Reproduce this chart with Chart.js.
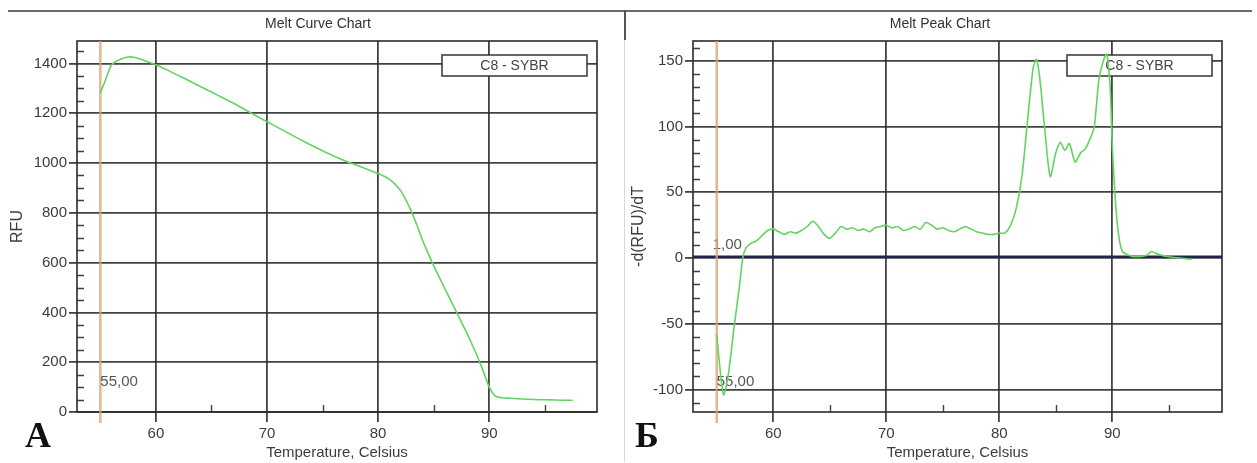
<!DOCTYPE html>
<html>
<head>
<meta charset="utf-8">
<title>Melt Curve / Melt Peak</title>
<script src="https://cdn.jsdelivr.net/npm/chart.js@4.4.1/dist/chart.umd.min.js"></script>
<style>
  html, body { margin: 0; padding: 0; background: #fff; }
  body { width: 1257px; height: 463px; position: relative; overflow: hidden; font-family: "Liberation Sans", Arial, sans-serif; }
  canvas { position: absolute; top: 0; }
  .frame-top { position: absolute; top: 10px; left: 8px; width: 1244px; height: 2px; background: #6a6a6a; }
  .sep { position: absolute; left: 624px; top: 10px; width: 1px; height: 452px; background: #d8d8d8; }
  .sep-top { position: absolute; left: 624px; top: 10px; width: 2px; height: 30px; background: #555; }
  .title { position: absolute; top: 15px; font-size: 14px; line-height: 16px; color: #333; white-space: nowrap; transform: translateX(-50%); }
  .letter { position: absolute; top: 417px; font-family: "Liberation Serif", "DejaVu Serif", serif; font-weight: bold; font-size: 36px; line-height: 36px; color: #111; }
</style>
</head>
<body>
<div class="frame-top"></div>
<div class="sep"></div>
<div class="sep-top"></div>
<canvas id="meltCurve" width="625" height="463" style="left:0"></canvas>
<canvas id="meltPeak" width="632" height="463" style="left:625px"></canvas>
<div class="title" style="left:318px">Melt Curve Chart</div>
<div class="title" style="left:940px">Melt Peak Chart</div>
<div class="letter" style="left:25px">А</div>
<div class="letter" style="left:635px">Б</div>
<script>
// Кривая плавления: температура (°C) и флуоресценция (RFU)
const meltTemps = [55.0, 55.5, 56.0, 56.5, 57.0, 57.5, 58.0, 58.5, 59.0, 59.5, 60, 61, 62, 63, 64, 65, 66, 67, 68, 69,
    70, 71, 72, 73, 74, 75, 76, 77, 78, 79, 80, 80.5, 81, 81.5, 82, 82.5, 83, 83.5, 84, 84.5, 85, 85.5, 86, 86.5,
    87, 87.5, 88, 88.5, 89, 89.5, 90, 90.5, 91, 92, 93, 94, 95, 96, 97, 97.5];
const meltRfu = [1280, 1338, 1393, 1410, 1420, 1426, 1425, 1419, 1411, 1403, 1395, 1374, 1352, 1330, 1307, 1285, 1262, 1240, 1215, 1190,
    1166, 1142, 1118, 1094, 1071, 1049, 1028, 1009, 992, 975, 958, 948, 935, 916, 890, 852, 805, 750, 690, 637, 588, 542, 496, 451,
    406, 361, 316, 267, 216, 160, 100, 66, 58, 55, 52, 50, 49, 48, 47, 47];

// Пики плавления: -d(RFU)/dT
const peakTemps = [55.0, 55.3, 55.6, 56.0, 56.5, 57.0, 57.3, 57.6, 58.0, 58.5, 59.0, 59.5, 60.0, 60.5, 61.0, 61.5, 62.0, 62.5, 63.0, 63.5,
    64.0, 64.5, 65.0, 65.5, 66.0, 66.5, 67.0, 67.5, 68.0, 68.5, 69.0, 69.5, 70.0, 70.5, 71.0, 71.5, 72.0, 72.5, 73.0, 73.5,
    74.0, 74.5, 75.0, 75.5, 76.0, 76.5, 77.0, 77.5, 78.0, 78.5, 79.0, 79.5, 80.0, 80.5, 81.0, 81.5, 82.0, 82.5, 83.0, 83.3,
    83.6, 84.0, 84.5, 85.0, 85.4, 85.8, 86.2, 86.7, 87.2, 87.6, 88.0, 88.4, 88.8, 89.2, 89.5, 89.8, 90.0, 90.3, 90.6, 90.9,
    91.5, 92.0, 93.0, 93.5, 94.0, 95.0, 96.0, 97.0];
const peakValues = [-58, -85, -104, -90, -55, -22, 0, 8, 11, 13, 17, 21, 22, 20, 18, 20, 19, 21, 24, 28,
    24, 18, 15, 19, 24, 22, 23, 21, 22, 20, 23, 24, 25, 23, 24, 21, 22, 24, 22, 27,
    25, 22, 23, 21, 20, 22, 24, 22, 20, 19, 18, 18, 19, 19, 25, 38, 62, 105, 145, 151,
    135, 100, 62, 80, 88, 82, 87, 73, 80, 83, 90, 100, 135, 150, 155, 130, 85, 40, 15, 5,
    2, 1, 2, 5, 3, 1, 0, -1];

const xTicks = [60, 70, 80, 90];
const xMinorTicks = [65, 75, 85, 95];
const rfuTicks = [0, 200, 400, 600, 800, 1000, 1200, 1400];
const derivTicks = [-100, -50, 0, 50, 100, 150];
const startTemp = 55.0;
const peakThreshold = 1.0;
const sampleName = 'C8 - SYBR';

const GRID = 'rgba(45,45,45,0.9)';
const CURVE = '#62d462';
const TEXT = '#3c3c3c';
const FONT = { family: '"Liberation Sans", Arial, sans-serif', size: 15 };

function minorTicks(min, max, step, majorStep) {
    const out = [];
    for (let v = min; v <= max; v += step) {
        if (v % majorStep !== 0) out.push(v);
    }
    return out;
}

function fmtComma(v) {
    return v.toFixed(2).replace('.', ',');
}

// рамка, малые засечки, линия старта, порог и подпись образца
const meltDecor = {
    id: 'meltDecor',
    beforeDatasetsDraw(chart, args, opts) {
        const { ctx, chartArea: a, scales: { x, y } } = chart;
        ctx.save();

        ctx.strokeStyle = GRID;
        ctx.lineWidth = 1.8;
        ctx.strokeRect(a.left, a.top, a.right - a.left, a.bottom - a.top);

        ctx.lineWidth = 1.4;
        ctx.beginPath();
        opts.yMinor.forEach(v => {
            const py = Math.round(y.getPixelForValue(v)) + 0.5;
            ctx.moveTo(a.left, py);
            ctx.lineTo(a.left + 7, py);
        });
        xMinorTicks.forEach(v => {
            const px = Math.round(x.getPixelForValue(v)) + 0.5;
            ctx.moveTo(px, a.bottom);
            ctx.lineTo(px, a.bottom - 7);
        });
        ctx.stroke();

        ctx.font = '15px "Liberation Sans", Arial, sans-serif';
        ctx.textBaseline = 'middle';
        ctx.textAlign = 'left';

        // порог -d(RFU)/dT
        if (opts.threshold != null) {
            const ty = y.getPixelForValue(opts.threshold);
            ctx.strokeStyle = '#232352';
            ctx.lineWidth = 2.6;
            ctx.beginPath();
            ctx.moveTo(a.left, ty);
            ctx.lineTo(a.right, ty);
            ctx.stroke();
            ctx.fillStyle = '#555';
            ctx.fillText(fmtComma(opts.threshold), x.getPixelForValue(startTemp) - 4, ty - 12);
        }

        // начальная температура
        const sx = x.getPixelForValue(startTemp);
        ctx.strokeStyle = 'rgba(226,160,118,0.8)';
        ctx.lineWidth = 2.5;
        ctx.beginPath();
        ctx.moveTo(sx, a.top);
        ctx.lineTo(sx, a.bottom + 11);
        ctx.stroke();
        ctx.fillStyle = '#555';
        ctx.fillText(fmtComma(startTemp), sx, a.bottom - 30);

        // подпись образца
        const bw = 145, bh = 21;
        const bx = a.right - 10 - bw, by = a.top + 14;
        ctx.fillStyle = '#fff';
        ctx.fillRect(bx, by, bw, bh);
        ctx.strokeStyle = GRID;
        ctx.lineWidth = 1.6;
        ctx.strokeRect(bx, by, bw, bh);
        ctx.fillStyle = '#444';
        ctx.textAlign = 'center';
        ctx.font = '14px "Liberation Sans", Arial, sans-serif';
        ctx.fillText(chart.data.datasets[0].label, bx + bw / 2, by + bh / 2 + 1);

        ctx.restore();
    }
};

function makeChart(id, cfg) {
    return new Chart(document.getElementById(id), {
        type: 'line',
        data: {
            datasets: [{
                label: sampleName,
                data: cfg.temps.map((t, i) => ({ x: t, y: cfg.values[i] })),
                borderColor: CURVE,
                borderWidth: 1.6,
                pointRadius: 0,
                tension: 0.25,
                fill: false
            }]
        },
        options: {
            responsive: false,
            animation: false,
            layout: { padding: { top: 41, right: cfg.padRight, left: 0, bottom: 0 } },
            plugins: {
                legend: { display: false },
                tooltip: { enabled: false },
                meltDecor: { yMinor: cfg.yMinor, threshold: cfg.threshold }
            },
            scales: {
                x: {
                    type: 'linear',
                    min: 52.9,
                    max: 99.7,
                    afterBuildTicks: s => { s.ticks = xTicks.map(v => ({ value: v })); },
                    afterFit: s => { s.height = 51; },
                    border: { display: false },
                    grid: { color: GRID, lineWidth: 1.8, tickLength: 10, tickColor: GRID, tickWidth: 1.8 },
                    ticks: { font: FONT, color: TEXT, padding: 3, maxRotation: 0, callback: v => String(v) },
                    title: { display: true, text: 'Temperature, Celsius', font: FONT, color: TEXT, padding: { top: 0, bottom: 1 } }
                },
                y: {
                    min: cfg.yMin,
                    max: cfg.yMax,
                    afterBuildTicks: s => { s.ticks = cfg.yTicks.map(v => ({ value: v })); },
                    afterFit: s => { s.width = cfg.yWidth; },
                    border: { display: false },
                    grid: { color: GRID, lineWidth: 1.8, tickLength: 8, tickColor: GRID, tickWidth: 1.8 },
                    ticks: { font: FONT, color: TEXT, padding: 2, callback: v => String(v) },
                    title: { display: true, text: cfg.yTitle, font: { ...FONT, size: 16 }, color: TEXT, padding: { top: cfg.yTitlePad, bottom: 0 } }
                }
            }
        },
        plugins: [meltDecor]
    });
}

makeChart('meltCurve', {
    temps: meltTemps, values: meltRfu,
    yMin: 0, yMax: 1490, yTicks: rfuTicks,
    yMinor: minorTicks(0, 1450, 50, 200),
    yTitle: 'RFU', yTitlePad: 8, yWidth: 77, padRight: 28,
    threshold: null
});

makeChart('meltPeak', {
    temps: peakTemps, values: peakValues,
    yMin: -117, yMax: 165, yTicks: derivTicks,
    yMinor: minorTicks(-110, 160, 10, 50),
    yTitle: '-d(RFU)/dT', yTitlePad: 4, yWidth: 68, padRight: 35,
    threshold: peakThreshold
});
</script>
</body>
</html>
